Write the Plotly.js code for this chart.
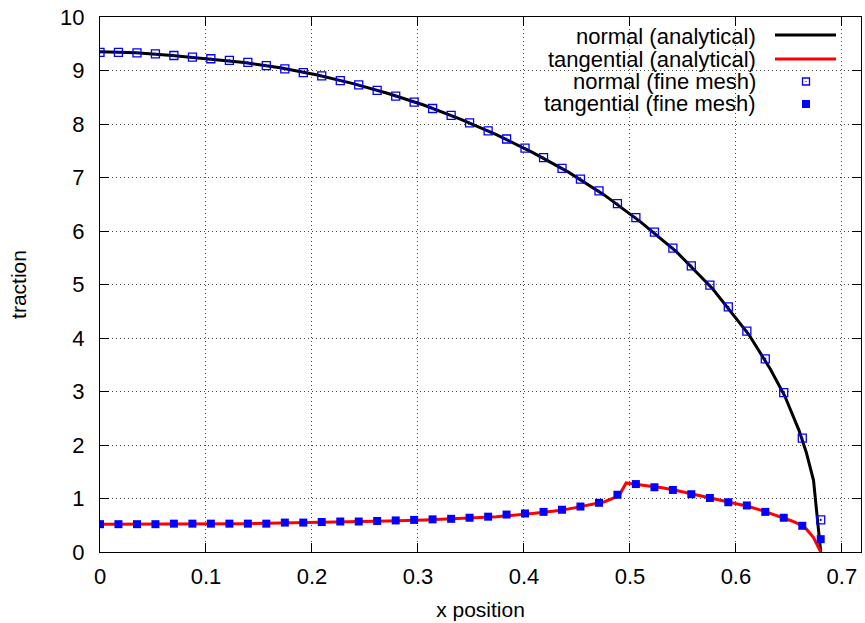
<!DOCTYPE html>
<html><head><meta charset="utf-8">
<script src="https://cdn.plot.ly/plotly-3.0.1.min.js"></script>
<style>html,body{margin:0;padding:0;background:#fff}#chart{width:865px;height:623px}</style>
</head><body><div id="chart"></div>
<script>
// ---- data ----
const meshX = [0, 0.0174, 0.0349, 0.0523, 0.0697, 0.0872, 0.1046, 0.1221, 0.1395, 0.1569,
  0.1744, 0.1918, 0.2092, 0.2267, 0.2441, 0.2615, 0.2790, 0.2964, 0.3138, 0.3313,
  0.3487, 0.3662, 0.3836, 0.4010, 0.4185, 0.4359, 0.4533, 0.4708, 0.4882, 0.5056,
  0.5231, 0.5405, 0.5579, 0.5754, 0.5928, 0.6103, 0.6277, 0.6451, 0.6626, 0.6800];
const meshNormal = [9.34, 9.34, 9.33, 9.31, 9.28, 9.25, 9.22, 9.19, 9.15, 9.09,
  9.03, 8.96, 8.90, 8.81, 8.73, 8.63, 8.52, 8.41, 8.29, 8.16,
  8.02, 7.87, 7.72, 7.55, 7.37, 7.17, 6.97, 6.75, 6.51, 6.25,
  5.98, 5.68, 5.35, 4.99, 4.58, 4.13, 3.61, 2.98, 2.13, 0.60];
const meshTangential = [0.52, 0.52, 0.52, 0.52, 0.53, 0.53, 0.53, 0.53, 0.53, 0.53,
  0.55, 0.55, 0.56, 0.57, 0.57, 0.58, 0.59, 0.60, 0.61, 0.62,
  0.64, 0.66, 0.70, 0.72, 0.75, 0.79, 0.85, 0.92, 1.07, 1.27,
  1.21, 1.16, 1.08, 1.01, 0.93, 0.87, 0.75, 0.64, 0.49, 0.24];

const anNormalX = [0, 0.034, 0.068, 0.102, 0.136, 0.170, 0.204, 0.238, 0.272, 0.306,
  0.340, 0.374, 0.408, 0.442, 0.476, 0.510, 0.544, 0.578, 0.612, 0.6324,
  0.646, 0.6596, 0.6664, 0.6732, 0.680];
const anNormal = [9.35, 9.33, 9.28, 9.22, 9.15, 9.05, 8.92, 8.76, 8.57, 8.35,
  8.09, 7.80, 7.47, 7.10, 6.67, 6.17, 5.61, 4.92, 4.07, 3.42,
  2.92, 2.27, 1.86, 1.34, 0.0];

const anTangX = [0, 0.034, 0.068, 0.102, 0.136, 0.170, 0.204, 0.238, 0.272, 0.306,
  0.340, 0.374, 0.408, 0.4216, 0.4352, 0.4488, 0.4624, 0.476, 0.4896, 0.4964,
  0.5032, 0.5168, 0.5304, 0.544, 0.5576, 0.5712, 0.5848, 0.5984, 0.612, 0.6256,
  0.6392, 0.6528, 0.6596, 0.6664, 0.6732, 0.680];
const anTang = [0.52, 0.52, 0.53, 0.53, 0.53, 0.54, 0.55, 0.57, 0.58, 0.60,
  0.63, 0.66, 0.72, 0.745, 0.78, 0.83, 0.88, 0.94, 1.05, 1.29,
  1.27, 1.24, 1.20, 1.15, 1.09, 1.03, 0.97, 0.91, 0.85, 0.77,
  0.68, 0.58, 0.52, 0.43, 0.27, 0.0];

const xTickVals = [0, 0.1, 0.2, 0.3, 0.4, 0.5, 0.6, 0.7];
const xTickText = ['0', '0.1', '0.2', '0.3', '0.4', '0.5', '0.6', '0.7'];
const yTickVals = [0, 1, 2, 3, 4, 5, 6, 7, 8, 9, 10];
const legendLabels = ['normal (analytical)', 'tangential (analytical)', 'normal (fine mesh)', 'tangential (fine mesh)'];

// ---- layout helpers (pixel -> paper) ----
const W = 865, H = 623, ML = 100, MR = 4, MT = 17, MB = 71;
const PW = W - ML - MR, PH = H - MT - MB;
const px = v => (v - ML) / PW;
const py = v => (H - MB - v) / PH;
const FONT = 'Liberation Sans, Arial, Helvetica, sans-serif';
const BLUE = 'rgb(0,0,255)';

const traces = [
  {x: anNormalX, y: anNormal, mode: 'lines', line: {color: '#000', width: 3}, name: legendLabels[0]},
  {x: anTangX, y: anTang, mode: 'lines', line: {color: '#ff0000', width: 3}, name: legendLabels[1]},
  {x: meshX, y: meshNormal, mode: 'markers', name: legendLabels[2],
   marker: {symbol: 'square-open-dot', size: 8, color: BLUE, line: {color: BLUE, width: 1.3}}},
  {x: meshX, y: meshTangential, mode: 'markers', name: legendLabels[3],
   marker: {symbol: 'square', size: 8, color: BLUE, line: {width: 0}}}
];

// custom gnuplot-style legend: text right, sample left
const rowsY = [36.5, 59, 81.5, 104];
const textRight = 757;
const annotations = legendLabels.map((t, i) => ({
  text: t, xref: 'paper', yref: 'paper', x: px(textRight), y: py(rowsY[i]),
  xanchor: 'right', yanchor: 'middle', showarrow: false, borderpad: 0,
  font: {family: FONT, size: 22, color: '#000'}
}));
const sq = (cx, cy, s, fill, lineW) => ({
  type: 'rect', xref: 'paper', yref: 'paper',
  x0: px(cx - s / 2), x1: px(cx + s / 2), y0: py(cy + s / 2), y1: py(cy - s / 2),
  fillcolor: fill, line: {color: BLUE, width: lineW}, layer: 'above'
});
const shapes = [
  {type: 'rect', xref: 'paper', yref: 'paper', x0: px(447), x1: px(849), y0: py(117), y1: py(19),
   fillcolor: '#fff', line: {width: 0}, layer: 'between'},
  {type: 'line', xref: 'paper', yref: 'paper', x0: px(775), x1: px(836), y0: py(35), y1: py(35),
   line: {color: '#000', width: 3}},
  {type: 'line', xref: 'paper', yref: 'paper', x0: px(775), x1: px(836), y0: py(59), y1: py(59),
   line: {color: '#ff0000', width: 3}},
  sq(806, 81.5, 7, 'rgba(0,0,0,0)', 1.3),
  sq(806, 81.5, 1.2, BLUE, 0),
  sq(806, 104, 8, BLUE, 0)
];

const axisCommon = {
  showline: true, mirror: 'ticks', linecolor: '#000', linewidth: 1,
  ticks: 'inside', ticklen: 9, tickcolor: '#000', tickwidth: 1,
  showgrid: true, gridcolor: '#444', griddash: '1px,3px', gridwidth: 1,
  zeroline: false, tickfont: {family: FONT, size: 22, color: '#000'},
  automargin: false
};

const layout = {
  width: W, height: H, margin: {l: ML, r: MR, t: MT, b: MB},
  paper_bgcolor: '#fff', plot_bgcolor: '#fff', showlegend: false,
  font: {family: FONT, color: '#000'},
  xaxis: Object.assign({}, axisCommon, {
    range: [0, 0.718], tickvals: xTickVals, ticktext: xTickText, ticklabelstandoff: 5,
    title: {text: 'x position', font: {family: FONT, size: 21, color: '#000'}, standoff: 13}
  }),
  yaxis: Object.assign({}, axisCommon, {
    range: [0, 10], tickvals: yTickVals, ticklabelstandoff: 10,
    title: {text: 'traction', font: {family: FONT, size: 21, color: '#000'}, standoff: 27}
  }),
  annotations: annotations, shapes: shapes
};

Plotly.newPlot('chart', traces, layout, {staticPlot: true, displayModeBar: false});
</script></body></html>
